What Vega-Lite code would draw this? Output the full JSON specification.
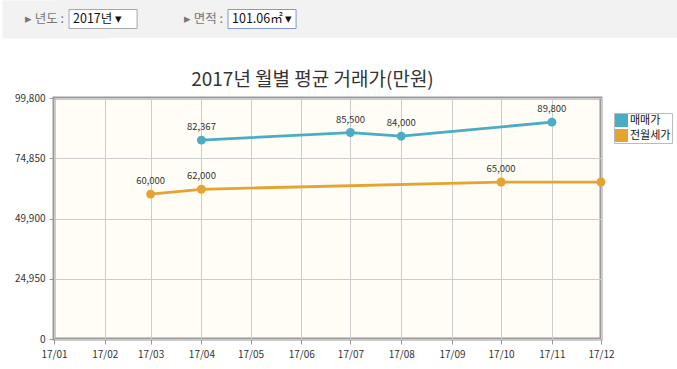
{
  "$schema": "https://vega.github.io/schema/vega-lite/v6.json",
  "background": "white",
  "padding": 0,
  "spacing": 31,
  "columns": 1,
  "bounds": "full",
  "config": {"font": "Noto Sans CJK KR", "view": {"stroke": null}},
  "concat": [
    {
      "width": 625,
      "height": 38,
      "view": {"fill": "#f2f2f2"},
      "data": {"values": [
        {"item": "년도", "label": "▸  년도 :", "value": "2017년 ▾"},
        {"item": "면적", "label": "▸  면적 :", "value": "101.06㎡ ▾"}
      ]},
      "encoding": {
        "x": {"field": "item", "type": "nominal", "sort": null,
              "scale": {"domain": ["년도", "면적", "-", "--"], "paddingInner": 0.572, "paddingOuter": 0.2515, "align": 0.188},
              "axis": null},
        "y": {"datum": "box", "type": "nominal", "scale": {"paddingInner": 0, "paddingOuter": 0.5},
              "axis": {"title": null, "labels": false, "ticks": false, "grid": false, "domain": true, "zindex": 0,
                       "domainColor": "#f2f2f2", "domainWidth": 104, "domainCap": "butt", "minExtent": 52, "maxExtent": 52}}
      },
      "layer": [
        {"mark": {"type": "rect", "fill": "white", "strokeWidth": 1},
         "encoding": {"stroke": {"condition": {"test": "datum.item === '면적'", "value": "#7d9bd0"}, "value": "#a8a8a8"}}},
        {"mark": {"type": "text", "align": "right", "dx": -5, "fontSize": 12.5, "color": "#777"},
         "encoding": {"x": {"field": "item", "type": "nominal", "bandPosition": 0}, "text": {"field": "label"}}},
        {"mark": {"type": "text", "align": "left", "dx": 4, "fontSize": 12.5, "color": "#111"},
         "encoding": {"x": {"field": "item", "type": "nominal", "bandPosition": 0}, "text": {"field": "value"}}}
      ]
    },
    {
      "width": 547,
      "height": 241,
      "title": {"text": "2017년 월별 평균 거래가(만원)", "fontSize": 19, "fontWeight": "normal", "color": "#333", "offset": 3, "dx": -15},
      "view": {"fill": "#fffdf5", "stroke": "#999", "strokeWidth": 3},
      "data": {"values": [
        {"month": "2017-04-01", "series": "매매가", "price": 82367},
        {"month": "2017-07-01", "series": "매매가", "price": 85500},
        {"month": "2017-08-01", "series": "매매가", "price": 84000},
        {"month": "2017-11-01", "series": "매매가", "price": 89800},
        {"month": "2017-03-01", "series": "전월세가", "price": 60000},
        {"month": "2017-04-01", "series": "전월세가", "price": 62000},
        {"month": "2017-10-01", "series": "전월세가", "price": 65000},
        {"month": "2017-12-01", "series": "전월세가", "price": 65000}
      ]},
      "encoding": {
        "x": {"field": "month", "type": "temporal",
              "scale": {"type": "utc", "nice": false,
                        "domain": [{"year": 2017, "month": 1, "date": 1, "utc": true}, {"year": 2017, "month": 12, "date": 1, "utc": true}]},
              "axis": {"title": null, "labelExpr": "utcFormat(datum.value, '%y/%m')", "tickCount": {"interval": "month", "step": 1},
                       "domain": false, "grid": true, "gridColor": "#cccccc", "tickColor": "#999", "tickSize": 5,
                       "labelFontSize": 10, "labelColor": "#333", "labelPadding": 5, "labelFlush": false, "labelOverlap": false}},
        "y": {"field": "price", "type": "quantitative",
              "scale": {"domain": [0, 99800], "nice": false, "zero": true},
              "axis": {"title": null, "values": [0, 24950, 49900, 74850, 99800], "labelExpr": "format(datum.value, ',')",
                       "domain": false, "grid": true, "gridColor": "#cccccc", "tickColor": "#999", "tickSize": 5,
                       "labelFontSize": 10, "labelColor": "#333", "labelPadding": 4, "minExtent": 52}}
      },
      "layer": [
        {"mark": {"type": "line", "strokeWidth": 2.8},
         "encoding": {"color": {"field": "series", "type": "nominal",
           "scale": {"domain": ["매매가", "전월세가"], "range": ["#4aacc5", "#e5a331"]},
           "legend": {"title": null, "orient": "none", "legendX": 560, "legendY": 113, "symbolType": "square",
                      "symbolSize": 169, "symbolStrokeWidth": 0, "symbolOpacity": 1, "labelFontSize": 11, "labelColor": "#111",
                      "strokeColor": "#bbb", "padding": 1, "rowPadding": 2, "labelOffset": 2}}}},
        {"mark": {"type": "circle", "size": 80, "opacity": 1},
         "encoding": {"color": {"field": "series", "type": "nominal"}}},
        {"transform": [{"filter": "!(datum.series === '전월세가' && utcmonth(datum.month) === 11)"}],
         "mark": {"type": "text", "dy": -13, "fontSize": 9.5, "color": "#333"},
         "encoding": {"text": {"field": "price", "type": "quantitative", "format": ","}}}
      ]
    }
  ]
}
